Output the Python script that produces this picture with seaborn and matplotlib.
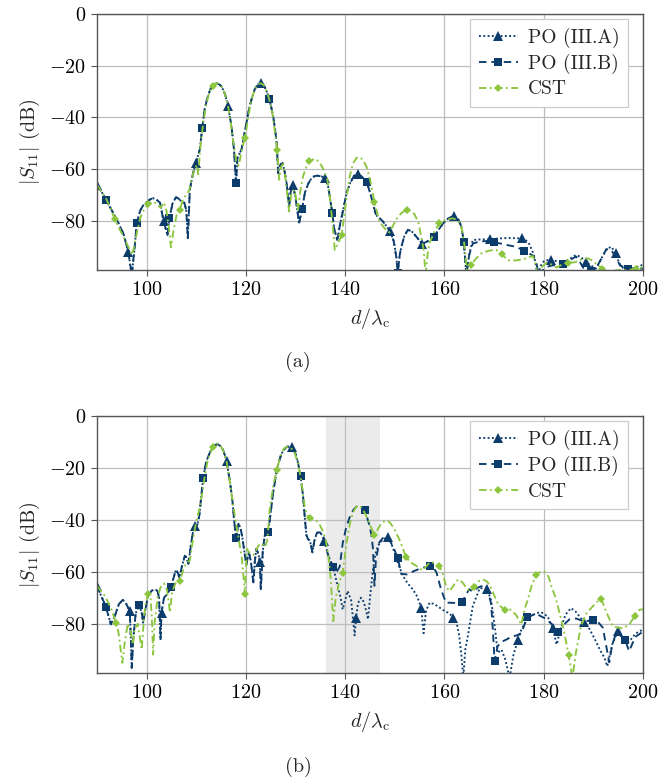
import numpy as np
import matplotlib
matplotlib.use("Agg")
import matplotlib.pyplot as plt
import seaborn as sns

# ---------------- data: panel (a) ----------------
a_A_x = [90, 91, 91.8, 93, 94, 95.3, 96.3, 97, 97.6, 98, 98.7, 99.3, 100, 100.6, 101.3, 102, 102.7, 103.4, 104.2, 104.6,
         105.2, 105.9, 106.5, 107, 107.6, 108, 108.3, 108.7, 109.3, 109.9, 110.7, 111.2, 111.7, 112.3, 112.8, 113.4, 114,
         114.6, 115.1, 115.8, 116.4, 117.1, 117.6, 118, 118.3, 118.7, 119.1, 119.6, 120.1, 120.6, 121.1, 121.8, 122.4,
         123, 123.6, 124.2, 124.7, 125.1, 125.5, 125.9, 126.2, 126.5, 127, 127.4, 127.8, 128.2, 128.7, 129, 129.4, 129.9,
         130.3, 130.7, 131.3, 131.9, 132.6, 133.4, 134.3, 135.2, 136, 136.5, 136.9, 137.4, 137.8, 138.4, 139, 139.6,
         140.3, 141, 141.8, 142.5, 143.4, 144.3, 145, 145.6, 146.2, 147.5, 148.5, 149.1, 149.8, 150.3, 150.6, 151, 151.3,
         151.9, 152.6, 153.4, 154.5, 155.5, 156.5, 157.9, 158.8, 159.7, 160.8, 162, 162.8, 163.4, 163.9, 164.4, 165,
         165.7, 167, 169.1, 171, 173, 175.6, 176.4, 177.1, 178, 178.8, 179.5, 180.1, 181.5, 183, 183.8, 185, 186.5,
         187.5, 188.5, 190.5, 191.5, 192.6, 193.6, 194.5, 195.2, 196.5, 198.5, 200]
a_A_y = [-66.1, -69, -71.9, -76, -79.6, -84.8, -92, -101, -90, -81, -76, -74, -72.9, -71.8, -71.2, -71.8, -73, -80, -85.5,
         -79, -73.4, -70.8, -71.5, -72.5, -73, -76, -87, -68, -62, -57.7, -52.5, -44, -36.6, -32, -29.3, -27.5, -26.7,
         -27.2, -28, -31, -35.5, -43.5, -52.5, -65.4, -55.5, -54, -52.5, -47, -42.2, -37, -33.2, -29, -27.2, -26.7,
         -27.5, -30, -32.8, -36, -39.6, -45, -49.9, -61.5, -58, -57.7, -61, -65.4, -74.5, -69, -66, -70, -75, -81,
         -75.5, -69, -65.4, -63, -62.5, -62.8, -63.5, -66, -70.6, -77, -83.2, -87.4, -81, -75.7, -69, -65.4, -62.5,
         -61.8, -63, -64.8, -69, -73.2, -77.7, -80, -82.5, -84.1, -88, -94, -100, -93, -90.2, -86, -83.5, -84, -86.5,
         -88.9, -88, -86.1, -83.5, -81, -79, -78, -79.5, -82.2, -88, -101, -93, -87.4, -87.2, -87.1, -86.8, -86.6,
         -86.8, -87.5, -89, -93, -101, -97, -95.4, -95, -95.8, -96.4, -95, -93.2, -94, -96, -98.5, -95, -91, -90,
         -92.5, -96.4, -99.5, -98, -97]

a_B_x = a_A_x[:a_A_x.index(165.7)] + [165.7, 167, 168.5, 170, 171.4, 173, 174.4, 176, 177.9, 178.5, 179, 180, 181.1,
                                      182.5, 183.8, 185, 186.5, 187.3, 188, 189.5, 190.5, 191.5, 192.6, 193.5,
                                      194.5, 195.4, 197, 198.5, 200]
a_B_y = a_A_y[:a_A_x.index(165.7)] + [-88.8, -88, -87.8, -88.3, -88.8, -89.5, -90, -91.5, -93.5, -96, -101, -98.5,
                                      -97.5, -97, -96.6, -95.5, -93.8, -96, -98.2, -99.5, -98.5, -95, -91, -91,
                                      -94, -97.3, -98.5, -98.5, -98.5]

a_C_x = [90, 91, 91.8, 92.7, 93.6, 94.5, 95.3, 96.3, 97, 97.5, 98, 98.7, 99.5, 100.3, 101.3, 102.2, 102.8, 103.5, 104,
         104.5, 104.9, 105.4, 106, 106.7, 107.4, 108, 108.6, 109, 109.4, 110.1, 110.4, 110.8, 111.4, 112, 112.6, 113.3,
         114, 114.6, 115.1, 115.8, 116.4, 117, 117.5, 118.1, 118.6, 119.1, 119.8, 120.3, 121, 121.7, 122.4, 123, 123.6,
         124.2, 124.7, 125.3, 125.8, 126.3, 126.7, 127.1, 127.5, 128, 128.7, 129.2, 129.8, 130.5, 131, 131.5, 132.2,
         132.8, 133.8, 134.7, 135.5, 136.4, 136.9, 137.5, 137.9, 138.5, 139.3, 139.8, 140.3, 140.9, 141.6, 142.3, 143,
         143.6, 144.3, 145, 145.9, 146.9, 148, 148.9, 149.6, 150.3, 151.3, 152.4, 153.2, 154, 154.8, 155.3, 155.8,
         156.2, 156.6, 157, 158, 159, 160.3, 161.7, 162.8, 163.5, 164, 164.6, 165.3, 166.4, 167.5, 169, 170.4, 171.6,
         172.8, 174.3, 175.8, 176.8, 177.8, 178.3, 178.8, 179.5, 180.5, 181.5, 182.6, 183.6, 184.8, 186.3, 187.5,
         188.9, 190, 190.5, 191.8, 193.5, 195, 197, 198.5, 200]
a_C_y = [-66, -69, -71.2, -75, -79.4, -83, -86, -90, -93.2, -90, -84.8, -79, -75.5, -73.5, -72.5, -73.8, -75, -72.9,
         -76, -83, -90.2, -84, -78, -75.7, -71.2, -70, -68, -64.5, -61.5, -58.3, -62, -52, -42.2, -35, -30.5, -27.7,
         -26.7, -27.2, -28, -31, -35.5, -43, -50, -57.7, -58.5, -53, -48, -42, -34, -29.5, -27.2, -26.8, -27.5, -30,
         -33, -38, -45, -52.5, -64.1, -59, -58, -64, -76.4, -69, -68, -75.7, -68, -62.8, -59, -57, -56, -57, -59.6,
         -64, -70.6, -82, -91.2, -89, -85.4, -78, -70.6, -63, -57.7, -55.6, -55.4, -56.5, -59.1, -64, -72.6, -80.3,
         -83, -84.5, -82, -79.4, -77, -75.7, -76.2, -77.5, -81, -85.9, -91, -101, -93, -88.5, -84, -80.9, -79.5, -79,
         -80, -83, -89, -101, -97, -94.5, -92.5, -91.5, -91.2, -93, -95.3, -95.3, -94.9, -94.2, -93.6, -96, -101, -98,
         -96.3, -96.8, -98, -97, -96.2, -96, -95, -94.5, -95.5, -96.5, -98.5, -99.5, -99, -99, -98.5, -98]

# ---------------- data: panel (b) ----------------
b_common_x = [90, 91, 91.8, 92.3, 92.8, 93.6, 94.4, 95.2, 95.8, 96.3, 96.6, 96.8, 97, 97.3, 97.8, 98.5, 99, 99.3, 99.8,
              100.3, 101, 101.7, 102.2, 102.5, 102.8, 103, 103.5, 104.2, 104.9, 105.4, 105.9, 106.3, 106.6, 107.1,
              107.7, 108, 108.4, 108.9, 109.3, 109.7, 110.2, 110.6, 110.9, 111.4, 112, 112.8, 113.5, 114.3, 115,
              115.5, 116.1, 116.8, 117.3, 117.6, 118, 118.5, 118.9, 119.3, 119.8, 120.1, 120.4, 120.6, 121, 121.5,
              121.8, 122.1, 122.5, 122.8, 123, 123.4, 123.8, 124.5, 125, 125.5, 126.3, 127, 127.5, 128.3, 129.2,
              130, 130.5, 131, 131.5, 131.9, 132.2, 132.5, 132.9, 133.4, 133.8, 134.3, 134.9, 135.4, 135.8, 136.2,
              136.6, 137.1, 137.6]
b_common_y = [-65.4, -70, -73.5, -77, -80.3, -77, -72.5, -70.8, -72, -74, -75.1, -85, -97, -86, -76, -72.8, -75.7,
              -79.6, -74, -69.3, -67.3, -66.7, -67.5, -70, -86, -75.7, -70, -68.5, -66, -62.5, -59.2, -60.5, -62.2,
              -58, -53.8, -54.5, -57, -50, -45, -42.2, -42, -38.5, -33, -23.7, -17.5, -13.8, -11.5, -10.8, -11.8,
              -13.5, -17.4, -25.4, -33, -39.6, -47.1, -41.5, -43, -47, -53.8, -57.5, -54, -52.5, -56, -64.1, -56,
              -51.2, -53, -56.4, -66.7, -52, -46, -44.8, -37, -29.3, -20, -15.5, -13.2, -11.8, -11.9, -14.5, -18,
              -23.1, -30.6, -40, -46, -47.4, -48, -52.5, -48, -45, -44.8, -46, -48, -51, -53.8, -56, -58.3]

b_A_x = b_common_x + [138.3, 139, 139.5, 140.5, 141.2, 141.9, 142.2, 142.6, 143.2, 143.7, 144.1, 144.6, 145.1, 145.6,
                      146.1, 146.6, 147.6, 148.6, 149.2, 149.9, 150.7, 151.6, 152.6, 153.6, 154.5, 155.3, 155.8,
                      156.3, 157, 158, 159, 160, 161, 161.8, 162.5, 163, 163.4, 163.8, 164.2, 164.7, 165.7, 167.1,
                      168.6, 169.4, 170.2, 170.7, 171.5, 172.3, 173.1, 173.9, 174.8, 175.5, 176.8, 178.5, 179.5,
                      180.8, 181.8, 182.6, 183.4, 184.4, 185.5, 186.4, 187.2, 188.2, 189.2, 190.3, 191.3, 192.2,
                      192.8, 193.2, 193.8, 194.9, 195.8, 196.8, 197.6, 198.4, 199.2, 200]
b_A_y = b_common_y + [-64.1, -69.3, -74.5, -67.4, -71, -84.5, -77.7, -72, -70, -71.5, -74, -78.3, -68, -59, -53, -50,
                      -47.5, -46.7, -48.5, -52.5, -57, -61.5, -64.5, -66.7, -69.5, -73.8, -83.7, -75, -71.9, -72.5,
                      -73.8, -75.1, -76, -77.8, -80, -84.9, -92, -101, -90, -84.9, -73.3, -66.3, -66.5, -71, -82,
                      -91.3, -90, -94, -101, -92, -86.2, -82.3, -77.8, -75.9, -75.6, -77.2, -81.7, -88, -82, -76.5,
                      -74, -75.3, -77.2, -79.5, -82, -86, -90, -93, -96.4, -93, -88, -83, -84.5, -87.5, -86, -84,
                      -83, -82.3]

b_B_x = b_common_x + [138.3, 138.9, 139.5, 140.2, 140.9, 141.7, 142.5, 143.2, 143.9, 144.4, 144.9, 145.3, 145.6,
                      145.9, 146.2, 146.9, 147.6, 148.3, 149, 149.8, 150.6, 151.3, 152.5, 154, 155.5, 157, 157.8,
                      158.4, 159.3, 160.3, 162, 163.6, 164.3, 165, 165.7, 166.8, 168.4, 169.4, 169.8, 170.1, 170.7,
                      171.5, 172.6, 173.5, 174.6, 175.5, 176.7, 178.5, 180.5, 181.8, 182.8, 184, 185.2, 186.5, 188.2,
                      189.9, 191, 191.9, 192.6, 193.2, 193.8, 194.6, 195.4, 196.4, 197.2, 197.9, 198.6, 199.3, 200]
b_B_y = b_common_y + [-60, -58, -49, -43, -39, -36, -34.5, -35, -36.4, -39, -42.2, -46, -51.2, -65.4, -55, -48.6,
                      -47, -46.7, -48, -51, -54.7, -60.9, -61, -59.6, -58.5, -57.9, -58.5, -60.3, -66.7, -71.9, -72,
                      -71.5, -69, -66.7, -67.6, -66, -65, -72.3, -84, -94.5, -88.7, -87, -86, -85, -84.5, -83.6,
                      -77.4, -76.2, -78.2, -80.5, -83.3, -80.5, -78.3, -78, -79.2, -78.5, -79.5, -81.5, -88.7, -94.9,
                      -88, -83.6, -84.5, -86.2, -90.6, -87.5, -84.9, -84, -83]

b_C_x = [90, 90.8, 91.6, 92.3, 93, 93.8, 94.3, 94.6, 95.1, 95.6, 96.2, 96.8, 97.2, 97.6, 98.2, 98.7, 99, 99.3, 99.7,
         100.3, 100.8, 101.1, 101.3, 101.6, 102.2, 102.8, 103.5, 104.1, 104.7, 105.1, 105.8, 106.7, 107.4, 108, 108.7,
         109.3, 109.9, 110.6, 111.1, 111.6, 112.3, 113.3, 114.2, 115, 115.6, 116.1, 116.8, 117.4, 118.1, 118.6, 119.2,
         119.5, 119.8, 120.2, 120.8, 121.5, 122, 122.5, 123.2, 123.8, 124.3, 124.8, 125.5, 126.2, 127, 127.7, 128.2,
         129, 129.8, 130.6, 131.2, 131.9, 132.4, 132.9, 133.5, 134.2, 134.9, 135.6, 136.1, 136.6, 137.1, 137.6, 138.1,
         138.8, 139.5, 140.3, 141, 141.6, 142.2, 142.7, 143.4, 144.2, 145, 145.9, 146.6, 147.4, 148.3, 149, 149.9,
         151, 152.3, 153.3, 154.3, 155.6, 156.3, 157, 158, 159, 159.7, 160.3, 160.9, 161.6, 162.4, 163, 163.8, 164.5,
         165.1, 166, 167, 167.7, 168.4, 169.1, 170, 170.7, 171.4, 172.1, 173.2, 174.4, 175.5, 176.2, 176.8, 177.6,
         178.5, 179.3, 180.1, 181, 181.6, 182.4, 183.2, 184.2, 185, 185.8, 186.4, 187.5, 188.6, 189.9, 190.8, 191.6,
         192.7, 193.9, 194.8, 195.9, 197.2, 198.3, 199.3, 200]
b_C_y = [-65.4, -67.5, -69.3, -72, -75, -79.6, -83, -87.4, -95.1, -87, -80, -83, -88, -82, -80, -86, -90, -82, -73,
         -68.6, -70, -80, -91.9, -80, -70, -66, -64.5, -67, -75.7, -68, -64.5, -63.5, -59.2, -56.5, -55.7, -48, -41.5,
         -36, -31, -24.5, -17, -11.9, -10.6, -11.8, -14, -17.4, -26, -34, -42.2, -48, -55, -62, -68.6, -51.2, -53,
         -53.5, -52, -50, -49, -50.5, -48, -36, -27, -20.9, -15, -12.5, -11.9, -12.2, -14, -19, -25.5, -35.7, -38.5,
         -39.4, -39.7, -40.3, -42, -44.8, -48, -53.8, -63, -79, -70, -64, -60.3, -48.6, -41, -37, -35, -34.4, -35.5,
         -38.3, -42, -46, -43.5, -41, -40.3, -41, -43.5, -48, -54.5, -56.5, -57.7, -59.5, -58, -56.4, -56.5, -57.7,
         -61, -65.4, -67.5, -66, -63.5, -63, -64.5, -66.5, -67.6, -66, -63.5, -63, -63.5, -65, -69, -72, -73.5,
         -74.6, -74.5, -76.5, -80.4, -74, -70.8, -65, -61.2, -60, -59.9, -62, -66, -70, -76, -84, -91.9, -101, -92,
         -81, -76, -73.3, -71.5, -70.5, -75.9, -81, -81.5, -81.8, -80.4, -77.2, -74.6, -74.5]

shade_x = [136.1, 147.0]
x_ticks = [100, 120, 140, 160, 180, 200]
y_ticks = [0, -20, -40, -60, -80]
labels = ["PO (III.A)", "PO (III.B)", "CST"]
captions = ["(a)", "(b)"]

# ---------------- style ----------------
sns.set_style("whitegrid")
plt.rcParams.update({
    "font.family": ["cmr10", "DejaVu Serif"],
    "mathtext.fontset": "cm",
    "axes.formatter.use_mathtext": True,
    "axes.unicode_minus": True,
    "font.size": 14,
    "axes.edgecolor": "#555555",
    "axes.linewidth": 1.0,
    "grid.color": "#bdbdbd",
    "grid.linewidth": 0.9,
    "xtick.bottom": True,
    "ytick.left": True,
    "xtick.direction": "out",
    "ytick.direction": "out",
    "xtick.major.size": 4,
    "ytick.major.size": 4,
    "xtick.major.pad": 4,
    "ytick.major.pad": 4,
    "xtick.color": "#555555",
    "ytick.color": "#555555",
    "xtick.labelcolor": "black",
    "ytick.labelcolor": "black",
    "xtick.labelsize": 14.5,
    "ytick.labelsize": 14.5,
})

BLUE = "#0b3c6c"
GREEN = "#8cc63f"

fig = plt.figure(figsize=(6.59, 7.79), dpi=100)
W, H = 659, 779
ax_a = fig.add_axes([97 / W, 1 - 270 / H, 546 / W, 256 / H])
ax_b = fig.add_axes([97 / W, 1 - 673 / H, 546 / W, 257 / H])


def mark_idx(xs, start, step=6.54):
    xs = np.asarray(xs, dtype=float)
    out = []
    for m in np.arange(start, 200.6, step):
        out.append(int(np.argmin(np.abs(xs - m))))
    return sorted(set(out))


def draw(ax, series):
    for (x, y, lab, col, ls, mk, ms, start) in series:
        sns.lineplot(x=x, y=y, ax=ax, color=col, linestyle=ls, linewidth=1.35, marker=mk, markersize=ms,
                     markeredgewidth=0, markevery=mark_idx(x, start), label=lab, estimator=None, sort=False)


for ax, data in [
    (ax_a, [(a_A_x, a_A_y), (a_B_x, a_B_y), (a_C_x, a_C_y)]),
    (ax_b, [(b_A_x, b_A_y), (b_B_x, b_B_y), (b_C_x, b_C_y)]),
]:
    if ax is ax_b:
        ax.axvspan(shade_x[0], shade_x[1], color="#ebebeb", zorder=0.3, lw=0)
    draw(ax, [
        (data[0][0], data[0][1], labels[0], BLUE, (0, (1, 1.3)), "^", 6.5, 90.0),
        (data[1][0], data[1][1], labels[1], BLUE, (0, (4, 2.6)), "s", 5.8, 91.8),
        (data[2][0], data[2][1], labels[2], GREEN, (0, (4, 1.8, 1, 1.8)), "D", 4.2, 93.7),
    ])
    ax.set_xlim(90, 200)
    ax.set_ylim(-99, 0)
    ax.set_xticks(x_ticks)
    ax.set_yticks(y_ticks)
    ax.set_axisbelow(True)
    ax.set_xlabel(r"$d/\lambda_{\rm c}$", fontsize=14.5, labelpad=5)
    ax.set_ylabel(r"$|S_{11}|$ (dB)", fontsize=14.5, labelpad=5)
    leg = ax.legend(loc="upper right", bbox_to_anchor=(0.9725, 0.98), borderaxespad=0, frameon=True,
                    fancybox=False, framealpha=1, edgecolor="#cccccc", fontsize=14, handlelength=2.0,
                    borderpad=0.45, labelspacing=0.32, handletextpad=0.5)
    leg.get_frame().set_linewidth(0.9)

fig.text(298 / W, 1 - 362 / H, captions[0], ha="center", va="center", fontsize=14.5)
fig.text(298 / W, 1 - 767 / H, captions[1], ha="center", va="center", fontsize=14.5)

fig.savefig("out.png", dpi=100)
